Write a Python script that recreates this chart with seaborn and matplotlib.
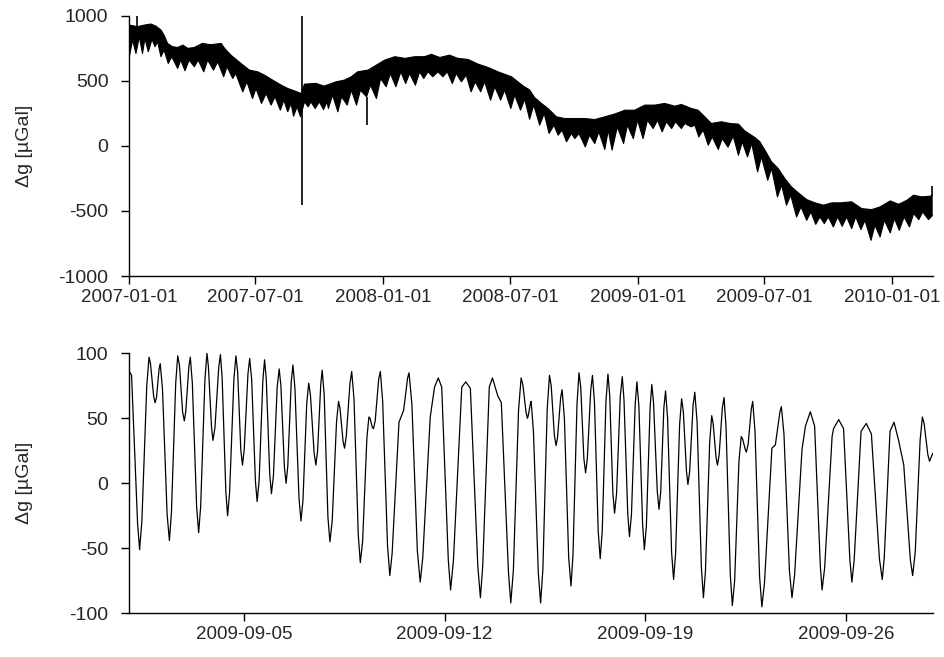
import numpy as np
import pandas as pd
import seaborn as sns
import matplotlib
matplotlib.use("Agg")
import matplotlib.pyplot as plt
import matplotlib.dates as mdates

# ---- top panel: long record 2007-01-01 .. 2010-02-28 (days since start) ----
top_start = pd.Timestamp("2007-01-01")

# upper edge of the dense band
upper_day = [0, 12, 21.6, 31, 38, 45.5, 50, 55, 62, 69.5, 77, 84, 93.5, 105, 117, 132, 137,
             146, 160.5, 172.5, 184.5, 194, 206, 218, 227.6, 237, 247, 251.6, 268, 280, 297,
             309, 319, 328, 343, 352.6, 367, 381.5, 396, 410, 424, 434, 446, 460, 472, 486.5,
             501, 515, 529.6, 549, 566, 575, 582, 592, 601.5, 613.5, 625.5, 640, 654, 668.6,
             683, 697, 712, 726, 740.5, 755, 769, 783.6, 793, 807.6, 817, 826.7, 836, 850.7,
             862.7, 875, 884, 898.6, 905.7, 913, 922.6, 932, 941.6, 951, 961, 973, 985, 997,
             1009, 1021, 1037.6, 1052, 1066.4, 1078.4, 1093, 1105, 1117, 1126.6, 1138, 1150, 1154]
upper_val = [928, 916, 928, 936, 921, 890, 851, 787, 762, 756, 774, 749, 756, 787, 777, 787, 749,
             697, 633, 582, 569, 544, 505, 467, 441, 423, 402, 474, 480, 459, 492,
             505, 531, 569, 582, 613, 659, 685, 672, 685, 685, 703, 679, 697, 672, 664,
             628, 603, 569, 531, 459, 430, 372, 326, 287, 223, 210, 210, 210, 202,
             223, 244, 274, 274, 313, 313, 326, 305, 318, 287, 274, 223, 172, 185,
             172, 167, 115, 64, 31, -33, -123, -174, -251, -315, -361, -413, -438, -456,
             -438, -438, -430, -482, -490, -469, -423, -449, -418, -379, -392, -387, -379]

# lower edge of the band (fortnightly dips and the notches between them)
lower_day = [0, 4.8, 9.6, 14.4, 19, 22.5, 27.3, 32.6, 37, 40.7, 45.5, 50, 56, 61, 69.5, 74, 80,
             86, 93.5, 99, 107, 112.6, 121, 127, 135.6, 140.4, 148.6, 153, 163, 169, 177, 182,
             190, 196.5, 203.7, 209.4, 217, 222, 227.6, 232.4, 236, 241, 246, 251.6, 257, 261,
             267, 273, 279, 284, 286, 292, 299.6, 305, 313, 319, 326.4, 332, 340.8, 346.5, 355,
             361, 369, 375, 383, 390, 397, 402.6, 411, 417, 423, 429, 436, 443.3, 450.5, 456.8,
             464, 469.6, 477, 484, 491, 497, 504.7, 510.4, 519, 525, 533.4, 539.2, 548, 553.6,
             562, 568, 575, 581, 589.5, 596, 603, 610, 616, 621.6, 628, 635, 640, 646, 655, 661,
             668.6, 674.5, 683, 688, 693.5, 701, 710, 715.5, 724, 730, 738, 744.3, 752.5, 758.7,
             765.4, 771.6, 779, 784.6, 793, 798, 807, 812.4, 818, 824.4, 831.6, 837.3, 846,
             851.7, 860, 867.5, 875, 880.4, 888, 894, 902.5, 908, 917, 922.6, 931, 937, 944, 950,
             958.5, 964.8, 973, 979, 986, 992, 998.3, 1004, 1011.3, 1017.5, 1024, 1030.4,
             1037.6, 1043.4, 1051, 1056.7, 1065.4, 1071, 1078.4, 1084.6, 1093, 1099, 1106,
             1112.9, 1120.6, 1126.6, 1134, 1139.6, 1148, 1154]
lower_val = [685, 813, 710, 838, 710, 826, 723, 818, 762, 800, 685, 736, 633, 685, 595, 659, 577,
             659, 608, 659, 569, 659, 582, 646, 531, 608, 518, 556, 415, 492, 364, 441,
             326, 402, 313, 377, 274, 351, 262, 326, 228, 300, 223, 338, 300, 338,
             287, 338, 279, 338, 287, 390, 262, 377, 313, 428, 313, 428, 377, 466, 364,
             518, 454, 556, 454, 569, 479, 556, 466, 569, 518, 569, 531, 569, 531, 569,
             479, 556, 492, 544, 415, 492, 415, 492, 351, 454, 351, 428, 287, 390,
             274, 358, 205, 313, 159, 249, 95, 159, 82, 121, 31, 95, 56, 95, -8, 82,
             18, 108, -28, 121, -33, 146, 18, 159, 56, 197, 56, 197, 133, 197,
             108, 185, 133, 185, 133, 172, 146, 159, 69, 121, 5, 69, -28,
             56, -10, 74, -72, 31, -85, 18, -200, -85, -264, -174, -392, -302, -456, -379,
             -546, -469, -572, -508, -603, -546, -597, -546, -623, -546, -618, -546,
             -636, -546, -643, -572, -726, -610, -700, -572, -669, -559, -649,
             -546, -623, -520, -567, -508, -567, -533]

# isolated spikes (day, low end, high end)
spike_day = [11, 248.3, 341, 1152.6]
spike_low = [916, -456, 159, -387]
spike_high = [1000, 1000, 377, -307]

# ---- bottom panel: September 2009 (days since 2009-09-01) ----
sep_start = pd.Timestamp("2009-09-01")
sep_day = [0.00, 0.08, 0.29, 0.36, 0.44, 0.61, 0.69, 0.74, 0.85, 0.90,
           0.95, 1.04, 1.08, 1.16, 1.32, 1.40, 1.47, 1.62, 1.69, 1.75,
           1.86, 1.92, 1.97, 2.08, 2.13, 2.20, 2.35, 2.42, 2.49, 2.64,
           2.71, 2.76, 2.87, 2.92, 2.99, 3.12, 3.18, 3.24, 3.37, 3.43,
           3.50, 3.65, 3.72, 3.78, 3.89, 3.95, 4.01, 4.14, 4.20, 4.27,
           4.40, 4.46, 4.53, 4.66, 4.72, 4.78, 4.90, 4.96, 5.03, 5.16,
           5.23, 5.29, 5.41, 5.47, 5.53, 5.65, 5.71, 5.78, 5.92, 5.99,
           6.06, 6.19, 6.26, 6.32, 6.45, 6.51, 6.57, 6.68, 6.73, 6.80,
           6.93, 7.00, 7.08, 7.23, 7.30, 7.35, 7.46, 7.51, 7.57, 7.70,
           7.76, 7.84, 7.99, 8.06, 8.14, 8.29, 8.36, 8.40, 8.48, 8.52,
           8.58, 8.70, 8.76, 8.84, 9.01, 9.09, 9.17, 9.41, 9.57, 9.71,
           9.76, 9.86, 10.05, 10.15, 10.24, 10.50, 10.65, 10.78, 10.90, 11.13,
           11.21, 11.31, 11.60, 11.74, 11.90, 12.16, 12.25, 12.33, 12.56, 12.67,
           12.86, 12.98, 13.23, 13.31, 13.40, 13.58, 13.67, 13.73, 13.84, 13.89,
           13.92, 13.99, 14.02, 14.10, 14.27, 14.35, 14.43, 14.58, 14.66, 14.72,
           14.83, 14.89, 14.94, 15.05, 15.10, 15.18, 15.33, 15.41, 15.48, 15.62,
           15.69, 15.75, 15.86, 15.92, 15.98, 16.10, 16.16, 16.23, 16.36, 16.43,
           16.50, 16.63, 16.70, 16.76, 16.87, 16.93, 17.00, 17.13, 17.20, 17.26,
           17.39, 17.45, 17.52, 17.65, 17.71, 17.78, 17.91, 17.97, 18.04, 18.17,
           18.23, 18.29, 18.42, 18.48, 18.54, 18.65, 18.71, 18.78, 18.92, 18.99,
           19.06, 19.20, 19.27, 19.33, 19.44, 19.49, 19.55, 19.67, 19.73, 19.81,
           19.96, 20.03, 20.10, 20.25, 20.32, 20.37, 20.47, 20.52, 20.58, 20.69,
           20.75, 20.82, 20.97, 21.04, 21.12, 21.27, 21.35, 21.40, 21.49, 21.53,
           21.59, 21.70, 21.75, 21.83, 21.99, 22.07, 22.16, 22.42, 22.54, 22.70,
           22.75, 22.84, 23.03, 23.12, 23.21, 23.47, 23.59, 23.76, 23.91, 24.11,
           24.17, 24.26, 24.52, 24.57, 24.75, 24.92, 25.14, 25.21, 25.29, 25.53,
           25.71, 25.89, 26.17, 26.27, 26.34, 26.54, 26.68, 26.84, 27.02, 27.25,
           27.33, 27.42, 27.59, 27.67, 27.73, 27.86, 27.92, 28.03]
sep_val = [86, 83, -31, -51, -29, 75, 97, 92, 67, 62,
           66, 88, 92, 72, -24, -44, -23, 77, 98, 91,
           55, 48, 55, 90, 97, 77, -18, -38, -18, 80,
           100, 90, 43, 33, 43, 89, 99, 81, -7, -25,
           -7, 80, 98, 86, 26, 14, 26, 84, 96, 80,
           2, -14, 2, 79, 95, 80, 7, -8, 6, 74,
           88, 75, 13, 0, 13, 78, 91, 73, -11, -29,
           -13, 61, 77, 68, 23, 14, 25, 76, 87, 68,
           -26, -45, -29, 47, 63, 58, 32, 27, 36, 77,
           86, 65, -40, -61, -45, 35, 51, 50, 43, 42,
           48, 80, 86, 63, -48, -71, -54, 47, 56, 81,
           85, 61, -52, -76, -57, 51, 74, 81, 74, -59,
           -82, -59, 74, 78, 73, -64, -88, -64, 74, 81,
           67, 62, -69, -92, -67, 56, 81, 76, 55, 50,
           52, 61, 63, 40, -69, -92, -66, 57, 83, 75,
           37, 29, 35, 66, 72, 50, -57, -79, -55, 61,
           85, 74, 19, 8, 19, 72, 83, 62, -37, -58,
           -37, 63, 84, 68, -7, -23, -8, 67, 82, 64,
           -23, -41, -24, 61, 78, 59, -32, -51, -33, 58,
           76, 62, -6, -20, -7, 58, 71, 50, -53, -74,
           -54, 45, 65, 55, 9, -1, 9, 60, 70, 47,
           -65, -88, -68, 32, 52, 46, 20, 14, 22, 58,
           66, 43, -71, -94, -75, 17, 36, 34, 26, 24,
           30, 57, 63, 40, -72, -95, -77, 27, 29.5, 55,
           59, 38, -67, -88, -71, 26, 44, 55, 44, -64,
           -82, -65, 36, 42, 49, 42, -59, -76, -59, 40,
           46, 38, -58, -74, -57, 40, 47, 33, 14, -59,
           -71, -53, 33, 51, 46, 22, 17, 23]

# ---- build dates ----
up_dates = top_start + pd.to_timedelta(upper_day, unit="D")
lo_dates = top_start + pd.to_timedelta(lower_day, unit="D")
spk_dates = top_start + pd.to_timedelta(spike_day, unit="D")
sep_dates = sep_start + pd.to_timedelta(sep_day, unit="D")

sns.set_theme(style="ticks")
plt.rcParams["font.family"] = ["Liberation Sans", "DejaVu Sans"]
plt.rcParams["axes.unicode_minus"] = False
plt.rcParams["xtick.labelsize"] = 13.5
plt.rcParams["ytick.labelsize"] = 14
plt.rcParams["axes.labelsize"] = 14

fig = plt.figure(figsize=(9.45, 6.57), dpi=100)
ax1 = fig.add_axes([0.1368, 0.5799, 0.8502, 0.3962])
ax2 = fig.add_axes([0.1368, 0.0665, 0.8502, 0.3958])

# top: band as a filled polygon between upper and lower edges
poly_x = np.concatenate([mdates.date2num(up_dates), mdates.date2num(lo_dates)[::-1]])
poly_y = np.concatenate([upper_val, lower_val[::-1]])
ax1.fill(poly_x, poly_y, color="black", lw=0)
sns.lineplot(x=up_dates, y=upper_val, ax=ax1, color="black", lw=0.8, sort=False)
sns.lineplot(x=lo_dates, y=lower_val, ax=ax1, color="black", lw=0.8, sort=False)
ax1.vlines(spk_dates, spike_low, spike_high, color="black", lw=1.2)

ax1.set_xlim(up_dates[0], up_dates[-1])
ax1.set_ylim(-1000, 1000)
ax1.set_yticks([-1000, -500, 0, 500, 1000])
ax1.xaxis.set_major_locator(mdates.MonthLocator(bymonth=[1, 7]))
ax1.xaxis.set_major_formatter(mdates.DateFormatter("%Y-%m-%d"))
ax1.set_ylabel("Δg [µGal]")
ax1.set_xlabel("")

# bottom: one month of tides
sns.lineplot(x=sep_dates, y=sep_val, ax=ax2, color="black", lw=0.9, sort=False)
ax2.set_xlim(sep_dates[0], sep_dates[-1])
ax2.set_ylim(-100, 100)
ax2.set_yticks([-100, -50, 0, 50, 100])
ax2.xaxis.set_major_locator(mdates.DayLocator(bymonthday=[5, 12, 19, 26]))
ax2.xaxis.set_major_formatter(mdates.DateFormatter("%Y-%m-%d"))
ax2.set_ylabel("Δg [µGal]")
ax2.set_xlabel("")

for ax in (ax1, ax2):
    sns.despine(ax=ax)
    ax.tick_params(direction="out", length=6, width=1, color="black")
    ax.tick_params(axis="y", pad=9)
    ax.tick_params(axis="x", pad=3)
    for s in ("left", "bottom"):
        ax.spines[s].set_color("black")
        ax.spines[s].set_linewidth(1)
    ax.yaxis.set_label_coords(-0.12, 0.5)

plt.savefig("out.png", dpi=100)
